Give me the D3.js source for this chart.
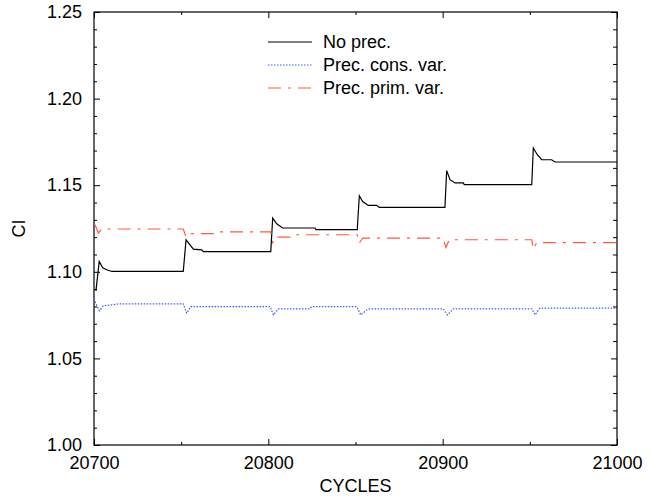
<!DOCTYPE html>
<html>
<head>
<meta charset="utf-8">
<script src="https://cdn.jsdelivr.net/npm/d3@7"></script>
<style>
  body { margin: 0; background: #fff; }
  svg text { font-family: 'Liberation Sans', Arial, Helvetica, sans-serif; }
</style>
</head>
<body>
<div id="plot"></div>
<script>
//Data
const noPrecCycles = [20701.1, 20703.0, 20705.0, 20707.3, 20710.2, 20751.2, 20752.8, 20757.0, 20761.8, 20762.7,
	20801.4, 20802.5, 20804.8, 20808.2, 20826.8, 20827.3, 20851.0, 20852.2, 20854.1, 20857.3, 20862.2, 20863.7,
	20901.3, 20902.3, 20904.2, 20907.1, 20911.8, 20912.4, 20951.1, 20952.0, 20954.3, 20956.8, 20962.5, 20964.4, 21000];
const noPrecCI = [1.0890, 1.1060, 1.1023, 1.1012, 1.1002, 1.1002, 1.1185, 1.1131, 1.1127, 1.1117,
	1.1117, 1.1310, 1.1277, 1.1253, 1.1253, 1.1243, 1.1243, 1.1439, 1.1406, 1.1383, 1.1383, 1.1372,
	1.1372, 1.1584, 1.1532, 1.1513, 1.1513, 1.1503, 1.1503, 1.1715, 1.1676, 1.1647, 1.1647, 1.1634, 1.1634];

const consCycles = [20700.6, 20703.0, 20705.3, 20714.5, 20751.2, 20753.2, 20755.5, 20801.0, 20802.9, 20805.7,
	20823.9, 20824.9, 20850.7, 20853.0, 20857.3, 20900.4, 20902.7, 20906.1, 20951.1, 20953.0, 20955.8, 21000];
const consCI = [1.0828, 1.0775, 1.0803, 1.0815, 1.0815, 1.0761, 1.0799, 1.0799, 1.0751, 1.0786,
	1.0786, 1.0799, 1.0799, 1.0751, 1.0786, 1.0786, 1.0751, 1.0786, 1.0786, 1.0751, 1.0790, 1.0790];

const primCycles = [20700.6, 20702.5, 20704.4, 20751.2, 20752.8, 20754.7, 20768.4, 20769.4, 20801.4, 20802.5,
	20803.8, 20815.3, 20816.3, 20851.0, 20852.2, 20854.1, 20900.2, 20901.9, 20903.8, 20951.1, 20952.0, 20954.0, 21000];
const primCI = [1.1272, 1.1224, 1.1247, 1.1247, 1.1202, 1.1220, 1.1220, 1.1231, 1.1231, 1.1169,
	1.1200, 1.1200, 1.1214, 1.1214, 1.1166, 1.1195, 1.1195, 1.1140, 1.1185, 1.1185, 1.1131, 1.1169, 1.1169];

const seriesNames = ['No prec.', 'Prec. cons. var.', 'Prec. prim. var.'];
const seriesColors = ['#000000', '#3c5aff', '#ff5a3c'];
const seriesDash = [null, '1.5,1.5', '13,7,3,7'];

const xTicks = [20700, 20800, 20900, 21000];
const yTicks = [1.00, 1.05, 1.10, 1.15, 1.20, 1.25];

//Canvas
const W = 651, H = 498;
const m = {l: 94, r: 34, t: 12, b: 53};
const iw = W - m.l - m.r, ih = H - m.t - m.b;
const svg = d3.select('#plot').append('svg').attr('width', W).attr('height', H);
const g = svg.append('g').attr('transform', `translate(${m.l},${m.t})`);

const x = d3.scaleLinear().domain([20700, 21000]).range([0, iw]);
const y = d3.scaleLinear().domain([1.0, 1.25]).range([ih, 0]);

//Axes: major + minor ticks pointing inward
const xMinor = d3.range(20750, 21000, 100);
const yMinor = d3.range(0, 26).map(i => 1 + i * 0.01).filter(v => Math.abs(Math.round(v * 20) - v * 20) > 1e-6);

function styleAxis(sel){
	sel.select('.domain').remove();
	sel.selectAll('line').attr('stroke', '#000').attr('stroke-width', 1);
	sel.selectAll('text').style('font-size', '18px').attr('fill', '#000');
}

g.append('g').attr('transform', `translate(0,${ih})`)
	.call(d3.axisBottom(x).tickValues(xTicks).tickSize(-6).tickPadding(11).tickFormat(d3.format('d')))
	.call(styleAxis);
g.append('g').attr('transform', `translate(0,${ih})`)
	.call(d3.axisBottom(x).tickValues(xMinor).tickSize(-3).tickFormat(''))
	.call(styleAxis);
g.append('g')
	.call(d3.axisTop(x).tickValues(xTicks).tickSize(-6).tickFormat(''))
	.call(styleAxis);
g.append('g')
	.call(d3.axisTop(x).tickValues(xMinor).tickSize(-3).tickFormat(''))
	.call(styleAxis);

g.append('g')
	.call(d3.axisLeft(y).tickValues(yTicks).tickSize(-6).tickPadding(12).tickFormat(d3.format('.2f')))
	.call(styleAxis);
g.append('g')
	.call(d3.axisLeft(y).tickValues(yMinor).tickSize(-3).tickFormat(''))
	.call(styleAxis);
g.append('g').attr('transform', `translate(${iw},0)`)
	.call(d3.axisRight(y).tickValues(yTicks).tickSize(-6).tickFormat(''))
	.call(styleAxis);
g.append('g').attr('transform', `translate(${iw},0)`)
	.call(d3.axisRight(y).tickValues(yMinor).tickSize(-4).tickFormat(''))
	.call(styleAxis);

//Frame
g.append('rect').attr('width', iw).attr('height', ih)
	.attr('fill', 'none').attr('stroke', '#000').attr('stroke-width', 1.2);

//Axis titles
svg.append('text').attr('x', m.l + iw / 2).attr('y', 492)
	.attr('text-anchor', 'middle').style('font-size', '18px').text('CYCLES');
svg.append('text').attr('transform', `translate(25,${m.t + ih / 2}) rotate(-90)`)
	.attr('text-anchor', 'middle').style('font-size', '18px').text('CI');

//Lines
const seriesData = [
	noPrecCycles.map((c, i) => [c, noPrecCI[i]]),
	consCycles.map((c, i) => [c, consCI[i]]),
	primCycles.map((c, i) => [c, primCI[i]])
];
const line = d3.line().x(d => x(d[0])).y(d => y(d[1]));

g.selectAll('.series')
	.data(seriesData)
	.enter()
	.append('path')
	.attr('class', 'series')
	.attr('d', line)
	.attr('fill', 'none')
	.attr('stroke', (d, i) => seriesColors[i])
	.attr('stroke-width', 1.2)
	.attr('stroke-dasharray', (d, i) => seriesDash[i]);

//Legend
const legend = svg.append('g').attr('transform', 'translate(268,42)');
const items = legend.selectAll('.item')
	.data(seriesNames)
	.enter()
	.append('g')
	.attr('class', 'item')
	.attr('transform', (d, i) => `translate(0,${i * 23})`);
items.append('line')
	.attr('x1', 0).attr('x2', 44)
	.attr('stroke', (d, i) => seriesColors[i])
	.attr('stroke-width', 1.2)
	.attr('stroke-dasharray', (d, i) => seriesDash[i]);
items.append('text')
	.attr('x', 55).attr('y', 6)
	.style('font-size', '18px')
	.text(d => d);
</script>
</body>
</html>
